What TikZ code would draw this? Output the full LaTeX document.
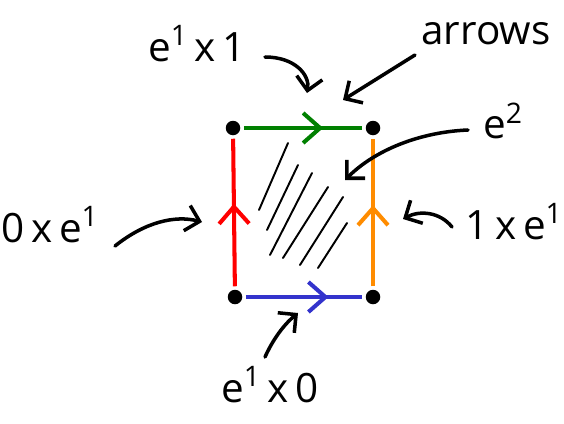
\documentclass[tikz,border=0pt]{standalone}
\usepackage{fontspec}
\setmainfont{Open Sans}
\usetikzlibrary{arrows.meta, decorations.markings}
\definecolor{edgegreen}{RGB}{0,128,0}
\definecolor{edgered}{RGB}{255,0,0}
\definecolor{edgeorange}{RGB}{255,140,0}
\definecolor{edgeblue}{RGB}{51,51,204}
\tikzset{
  vtx/.style={circle, fill=black, inner sep=0pt, minimum size=2.9mm,
              outer sep=0.7mm},
  lbl/.style={font=\fontsize{23}{28}\selectfont, inner sep=0pt},
  edg/.style={line width=2.3pt, postaction={decorate},
              decoration={markings, mark=at position #1 with
                {\arrow{Straight Barb[length=3.4mm, width=6mm]}}}},
  ptr/.style={-{Straight Barb[length=2.6mm, width=5.2mm]}, line width=2pt,
              line cap=round},
  hatch/.style={line width=1.1pt, line cap=round}
}
\begin{document}
\begin{tikzpicture}[x=0.02cm, y=-0.02cm]
        \useasboundingbox (0,0) rectangle (564,423);
        % corners of the square
        \node[vtx] (a) at (233,128) {};
        \node[vtx] (b) at (373,128) {};
        \node[vtx] (c) at (235,297) {};
        \node[vtx] (d) at (373,297) {};
        \draw[edg=0.67, edgegreen] (a) -- (b);
        \draw[edg=0.56, edgered] (c) -- (a);
        \draw[edg=0.55, edgeorange] (d) -- (b);
        \draw[edg=0.71, edgeblue] (c) -- (d);
        % the 2-cell
        \foreach \xa/\ya/\xb/\yb in {288/143/259/210, 298/165/267/230,
            312/173/270/255, 328/187/283/258, 343/197/300/265, 347/223/318/268}
          \draw[hatch] (\xa,\ya) -- (\xb,\yb);
        % labels
        \node[lbl] (top) at (197,44) {e\textsuperscript{1}\,x\,1};
        \node[lbl] (arr) at (486,34) {arrows};
        \node[lbl] (ee) at (503,121) {e\textsuperscript{2}};
        \node[lbl] (left) at (50,225) {0\,x\,e\textsuperscript{1}};
        \node[lbl] (right) at (514,222) {1\,x\,e\textsuperscript{1}};
        \node[lbl] (bot) at (270,385) {e\textsuperscript{1}\,x\,0};
        \coordinate (topend) at (307,93);
        \coordinate (arrend) at (343,100);
        \coordinate (eeend) at (345,180);
        \coordinate (leftend) at (202,222);
        \coordinate (rightend) at (403,219);
        \coordinate (botend) at (298,313);
        \draw[ptr] ([shift={(68,13)}]top.center) .. controls (295,57) and (310,75) .. (topend);
        \draw[ptr] ([shift={(-71,21)}]arr.center) -- (arrend);
        \draw[ptr] ([shift={(-35,9)}]ee.center) .. controls (420,132) and (375,150) .. (eeend);
        \draw[ptr] ([shift={(65,21)}]left.center) .. controls (145,222) and (175,215) .. (leftend);
        \draw[ptr] ([shift={(-62,5)}]right.center) .. controls (440,212) and (420,210) .. (rightend);
        \draw[ptr] ([shift={(-5,-28)}]bot.center) .. controls (275,335) and (287,322) .. (botend);
      \end{tikzpicture}
\end{document}
